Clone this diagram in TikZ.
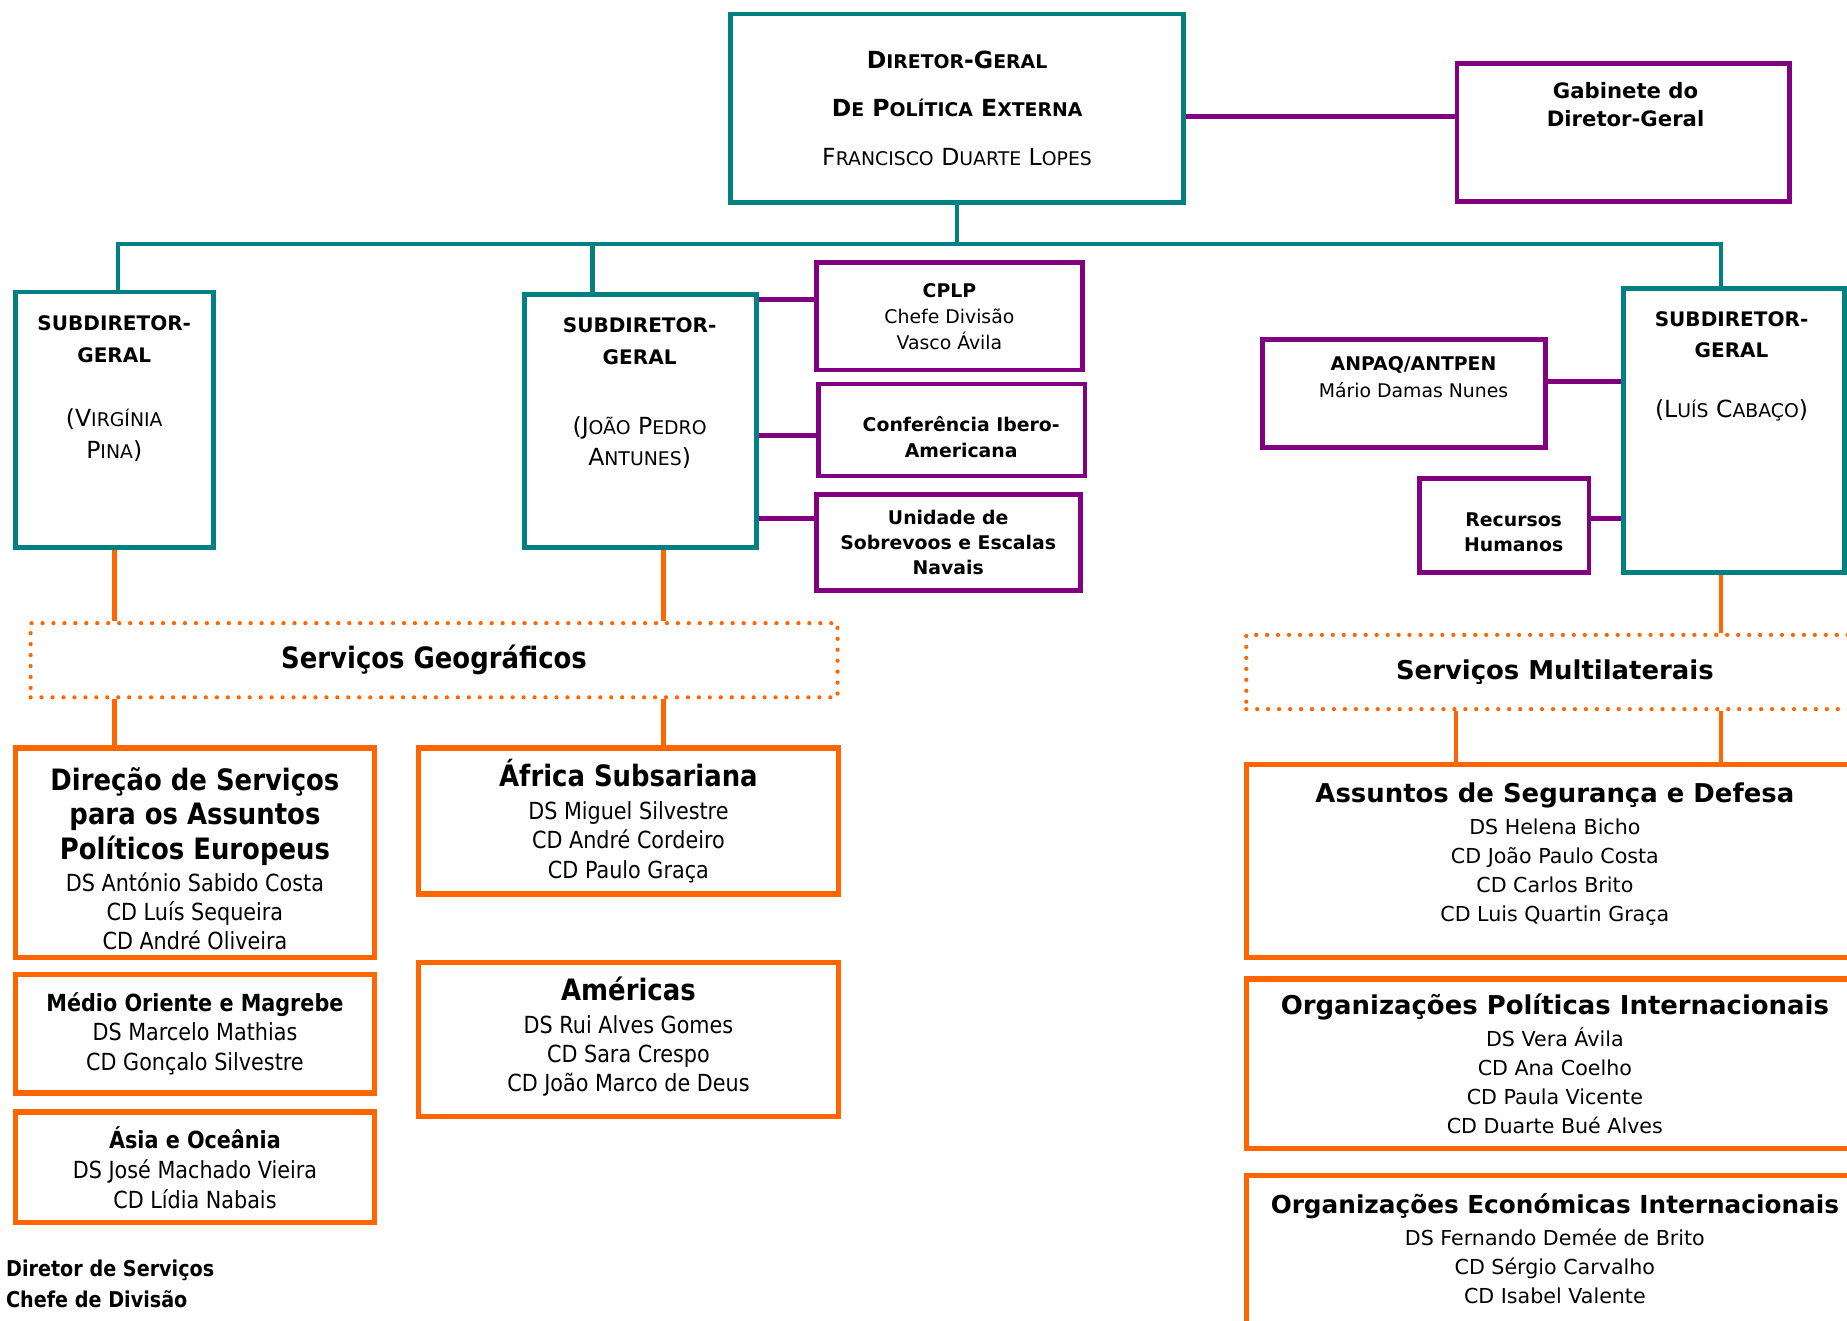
\documentclass[tikz,border=0pt]{standalone}
\usepackage{fontspec}
\setmainfont{DejaVu Sans}
\newfontfamily\tahoma[FakeStretch=0.88]{DejaVu Sans}
\usetikzlibrary{positioning}
\definecolor{dgteal}{HTML}{008080}
\definecolor{dgpurple}{HTML}{800080}
\definecolor{dgorange}{HTML}{FF6600}
\newcommand{\sce}[1]{{\fontsize{16}{16}\selectfont #1}}
\newcommand{\sdgfont}{\fontsize{17}{17}\selectfont\bfseries}
\newcommand{\geotitle}[1]{{\bfseries\fontsize{25}{25}\selectfont #1}}
\newcommand{\multititle}[1]{{\bfseries\fontsize{22}{22}\selectfont #1}}

\begin{document}
\begin{tikzpicture}[x=1pt, y=-1pt,
    box/.style={rectangle, inner sep=0pt, align=center, line width=4pt},
    tealbox/.style={box, draw=dgteal},
    purplebox/.style={box, draw=dgpurple, font=\fontsize{16}{22}\selectfont},
    geobox/.style={box, draw=dgorange, line width=4.5pt, font=\tahoma\fontsize{20}{25}\selectfont},
    multibox/.style={box, draw=dgorange, line width=4.5pt, font=\fontsize{17.5}{24.5}\selectfont},
    dotbox/.style={box, draw=dgorange, line width=3.6pt, dash pattern=on 0pt off 9.3pt, line cap=round},
    sdgtext/.style={align=center, inner sep=0pt, font=\fontsize{20}{27}\selectfont},
    boxtext/.style={align=center, inner sep=0pt},
    tealline/.style={draw=dgteal, line width=3.5pt},
    purpleline/.style={draw=dgpurple, line width=4pt},
    orangeline/.style={draw=dgorange, line width=4pt}]
    \useasboundingbox (0, 0) rectangle (1568, 1121.4);

    % Direcao-Geral
    \node[tealbox, minimum width=385pt, minimum height=160pt, font=\fontsize{20}{41}\selectfont] (dg) at (812.5, 92)
        {{\bfseries D\sce{IRETOR}-G\sce{ERAL}}\\ {\bfseries D\sce{E} P\sce{OLÍTICA} E\sce{XTERNA}}\\ F\sce{RANCISCO} D\sce{UARTE} L\sce{OPES}};
    \node[purplebox, minimum width=282pt, minimum height=117pt] (gab) at (1378, 112.5) {};
    \node[boxtext, font=\fontsize{18}{24}\selectfont\bfseries] (gab-t) at (1380, 89) {Gabinete do\\ Diretor-Geral};
    \draw[purpleline] ([yshift=-7pt]dg.east) -- ([yshift=-7pt]dg.east -| gab.west);

    % Subdiretores-gerais
    \node[tealbox, minimum width=168pt, minimum height=217pt] (sdg1) at (97, 356.5) {};
    \node[tealbox, minimum width=197pt, minimum height=215pt] (sdg2) at (543.5, 357.5) {};
    \node[tealbox, minimum width=188pt, minimum height=241pt] (sdg3) at (1472, 365.5) {};
    \node[sdgtext] (sdg1-t) at (97, 330) {{\sdgfont SUBDIRETOR-}\\ {\sdgfont GERAL}\\[27pt] (V\sce{IRGÍNIA}\\ P\sce{INA})};
    \node[sdgtext] (sdg2-t) at (543, 334) {{\sdgfont SUBDIRETOR-}\\ {\sdgfont GERAL}\\[32pt] (J\sce{OÃO} P\sce{EDRO}\\ A\sce{NTUNES})};
    \node[sdgtext] (sdg3-t) at (1470, 311) {{\sdgfont SUBDIRETOR-}\\ {\sdgfont GERAL}\\[24pt] (L\sce{UÍS} C\sce{ABAÇO})};

    \coordinate (busL) at (100, 207);
    \coordinate (busR) at (1461, 207);
    \coordinate (j2) at (503, 207);
    \draw[tealline] (dg.south) -- (dg.south |- busL);
    \draw[tealline] (busL |- sdg1.north) -- (busL) -- (busR) -- (busR |- sdg3.north);
    \draw[tealline] (j2) -- (j2 |- sdg2.north);

    % Unidades junto dos subdiretores
    \node[purplebox, minimum width=226pt, minimum height=91pt] (cplp) at (806, 268.5) {{\bfseries CPLP}\\ Chefe Divisão\\ Vasco Ávila};
    \node[purplebox, minimum width=226pt, minimum height=78pt] (cib) at (808, 365) {};
    \node[boxtext, font=\fontsize{16}{22}\selectfont\bfseries] (cib-t) at (816, 371) {Conferência Ibero-\\ Americana};
    \node[purplebox, minimum width=224pt, minimum height=81pt, font=\fontsize{16}{21.5}\selectfont\bfseries] (usen) at (805, 460.5) {Unidade de\\ Sobrevoos e Escalas\\ Navais};
    \node[purplebox, minimum width=240pt, minimum height=92pt] (anpaq) at (1192, 334) {};
    \node[boxtext, font=\fontsize{16}{23}\selectfont] (anpaq-t) at (1200, 320) {{\bfseries ANPAQ/ANTPEN}\\ Mário Damas Nunes};
    \node[purplebox, minimum width=144pt, minimum height=80pt] (rh) at (1277, 446) {};
    \node[boxtext, font=\fontsize{16}{21}\selectfont\bfseries] (rh-t) at (1285, 452) {Recursos\\ Humanos};
    \draw[purpleline] ([yshift=14.5pt]cplp.west) -- ([yshift=14.5pt]cplp.west -| sdg2.east);
    \draw[purpleline] ([yshift=-5pt]cib.west) -- ([yshift=-5pt]cib.west -| sdg2.east);
    \draw[purpleline] ([yshift=20.5pt]usen.west) -- ([yshift=20.5pt]usen.west -| sdg2.east);
    \draw[purpleline] ([yshift=10pt]anpaq.east) -- ([yshift=10pt]anpaq.east -| sdg3.west);
    \draw[purpleline] ([yshift=6pt]rh.east) -- ([yshift=6pt]rh.east -| sdg3.west);

    % Servicos Geograficos
    \node[dotbox, minimum width=685pt, minimum height=63pt, font=\tahoma] (geo) at (368.5, 560.5) {\geotitle{Serviços Geográficos}};
    \node[geobox, minimum width=305pt, minimum height=178pt] (dir) at (165.5, 724) {};
    \node[boxtext, font=\tahoma\fontsize{20}{25}\selectfont] (dir-t) at (165.5, 729)
        {\geotitle{Direção de Serviços}\\[4pt] \geotitle{para os Assuntos}\\[4pt] \geotitle{Políticos Europeus}\\[1.5pt] DS António Sabido Costa\\ CD Luís Sequeira\\ CD André Oliveira};
    \node[geobox, minimum width=305pt, minimum height=101pt] (mom) at (165.5, 877.5) {{\bfseries Médio Oriente e Magrebe}\\ DS Marcelo Mathias\\ CD Gonçalo Silvestre};
    \node[geobox, minimum width=305pt, minimum height=94pt] (aso) at (165.5, 991) {{\bfseries Ásia e Oceânia}\\[1pt] DS José Machado Vieira\\ CD Lídia Nabais};
    \node[geobox, minimum width=357pt, minimum height=124pt] (afr) at (533.5, 697) {\geotitle{África Subsariana}\\[3pt] DS Miguel Silvestre\\ CD André Cordeiro\\ CD Paulo Graça};
    \node[geobox, minimum width=357pt, minimum height=131pt] (ame) at (533.5, 882.5) {};
    \node[boxtext, font=\tahoma\fontsize{20}{25}\selectfont] (ame-t) at (533.5, 880) {\geotitle{Américas}\\[3pt] DS Rui Alves Gomes\\ CD Sara Crespo\\ CD João Marco de Deus};

    \coordinate (g2) at (563, 467);
    \draw[orangeline] (sdg1.south) -- (sdg1.south |- geo.north);
    \draw[orangeline] (sdg1.south |- geo.south) -- (sdg1.south |- dir.north);
    \draw[orangeline] (g2) -- (g2 |- geo.north);
    \draw[orangeline] (g2 |- geo.south) -- (g2 |- afr.north);

    % Servicos Multilaterais
    \node[dotbox, minimum width=540pt, minimum height=63pt] (multi) at (1328, 570.5) {};
    \node[boxtext] (multi-t) at (1320, 570.5) {\multititle{Serviços Multilaterais}};
    \node[multibox, minimum width=524pt, minimum height=164pt] (asd) at (1320, 731) {};
    \node[boxtext, font=\fontsize{17.5}{24.5}\selectfont] (asd-t) at (1320, 725)
        {\multititle{Assuntos de Segurança e Defesa}\\[2.5pt] DS Helena Bicho\\ CD João Paulo Costa\\ CD Carlos Brito\\ CD Luis Quartin Graça};
    \node[multibox, minimum width=524pt, minimum height=144pt] (opi) at (1320, 903)
        {\multititle{Organizações Políticas Internacionais}\\[2.5pt] DS Vera Ávila\\ CD Ana Coelho\\ CD Paula Vicente\\ CD Duarte Bué Alves};
    \node[multibox, minimum width=524pt, minimum height=170pt] (oei) at (1320, 1083) {};
    \node[boxtext, font=\fontsize{17.5}{24.5}\selectfont] (oei-t) at (1320, 1060)
        {{\bfseries\fontsize{21}{22}\selectfont Organizações Económicas Internacionais}\\[2.5pt] DS Fernando Demée de Brito\\ CD Sérgio Carvalho\\ CD Isabel Valente};

    \coordinate (m1) at (1236, 604);
    \coordinate (m2) at (1461, 488);
    \draw[orangeline] (m2) -- (m2 |- multi.north);
    \draw[orangeline] (m2 |- multi.south) -- (m2 |- asd.north);
    \draw[orangeline] (m1 |- multi.south) -- (m1 |- asd.north);

    % Legenda
    \node[anchor=west, align=left, inner sep=0pt, font=\tahoma\fontsize{18.5}{26}\selectfont\bfseries] (leg) at (5, 1090) {Diretor de Serviços\\ Chefe de Divisão};
\end{tikzpicture}
\end{document}
